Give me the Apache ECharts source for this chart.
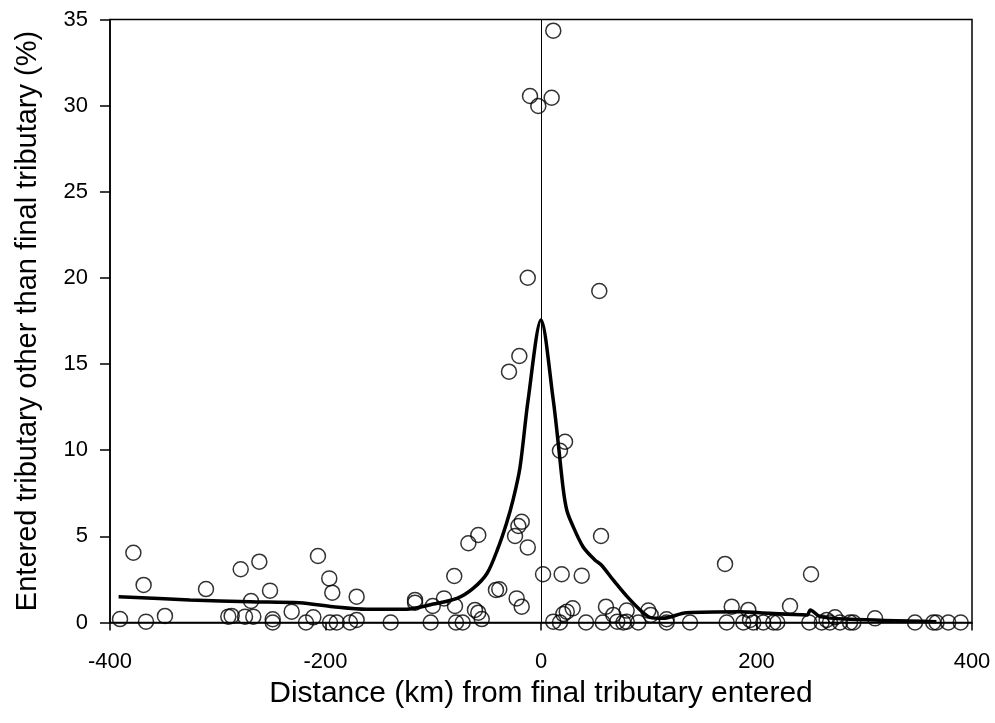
<!DOCTYPE html>
<html>
<head>
<meta charset="utf-8">
<script src="https://cdn.jsdelivr.net/npm/echarts@6/dist/echarts.min.js"></script>
<style>
html,body{margin:0;padding:0;background:#fff;}
#main{width:995px;height:723px;}
</style>
</head>
<body>
<div id="main"></div>
<script>
// Scatter observations: distance (km) and percent
var pointsX = [-390.7,-378.3,-368.8,-366.6,-349,-310.9,-290.2,-287.1,-278.7,-274.7,-269.1,-267,-261.4,-251.5,-249,-249,-231.4,-218.1,-211.3,-207,-196.5,-193.7,-195.8,-189.6,-177.3,-171.1,-171.1,-139.5,-116.9,-116.9,-102.4,-100.5,-90,-80.5,-79.8,-78.9,-72.7,-67.4,-61.3,-58.2,-58.2,-55,-41.8,-38.7,-29.7,-24.1,-22.6,-21,-20.1,-17.9,-17.9,-12.3,-12.3,-10.2,-2.5,
  1.9,9.9,11.4,11.4,17.6,17.6,19.2,20.7,22.3,23.9,29.4,37.8,41.8,54.1,55.7,57.3,60.3,67.1,70.8,76.4,79.5,79.5,90.3,99.6,101.8,116.6,116.6,138.3,170.8,172.3,177,187.8,192.4,194,197,206.3,215.6,219.3,231.1,249,250.6,260.5,265.1,268.2,272.9,277.5,286.8,289.9,310,347.1,364,367.1,378,389.5];
var pointsY = [0.20,4.05,2.18,0.05,0.38,1.94,0.34,0.38,3.09,0.34,1.25,0.34,3.53,1.85,0.19,0.0,0.63,0.0,0.30,3.86,2.56,1.73,0.0,0.0,0.0,0.15,1.50,0.0,1.31,1.15,0.0,0.96,1.40,2.70,0.96,0.0,0.0,4.6,0.73,5.08,0.57,0.2,1.89,1.93,14.56,5.02,1.40,5.6,15.47,5.85,0.92,20.01,4.36,30.56,29.98,
  2.8,30.46,34.35,0.05,0.0,9.97,2.8,0.49,10.49,0.63,0.82,2.72,0.0,19.24,5.02,0.0,0.92,0.44,0.05,0.0,0.69,0.05,0.0,0.69,0.44,0.19,0.0,0.0,3.40,0.0,0.92,0.0,0.73,0.15,0.0,0.0,0.0,0.0,0.96,0.0,2.80,0.0,0.15,0.0,0.30,0.0,0.0,0.0,0.24,0.0,0.0,0.0,0.0,0.0];

// Smoothed curve
var curveX = [-392,-326,-270,-224,-193,-162,-125,-100,-78,-63,-50,-40,-32,-26,-19.5,-12,0,11.4,16,20.7,24,28.5,39,50,56,67,80,92,101,113,135,185,203,247,250,259,287,367];
var curveY = [1.50,1.31,1.21,1.15,0.92,0.77,0.77,1.07,1.40,1.98,2.86,4.3,5.76,7.1,9.0,12.9,17.56,12.9,10.4,7.7,6.5,5.76,4.4,3.63,3.34,2.47,1.50,0.73,0.30,0.24,0.57,0.63,0.57,0.44,0.73,0.34,0.19,0.05];

var xTicks = [-400,-200,0,200,400];
var yTicks = [0,5,10,15,20,25,30,35];
var xTitle = 'Distance (km) from final tributary entered';
var yTitle = 'Entered tributary other than final tributary (%)';

var scatterData = pointsX.map(function(x,i){return [x,pointsY[i]];});
var curveData = curveX.map(function(x,i){return [x,curveY[i]];});

var font = 'Liberation Sans, Arial, sans-serif';
var chart = echarts.init(document.getElementById('main'), null, {renderer:'canvas'});
chart.setOption({
  animation:false,
  backgroundColor:'#fff',
  grid:{left:110,right:23,top:19.5,bottom:100.5,show:true,borderColor:'#000',borderWidth:1.5,backgroundColor:'transparent'},
  xAxis:{
    type:'value',min:xTicks[0],max:xTicks[xTicks.length-1],interval:200,
    axisLine:{show:true,onZero:false,lineStyle:{color:'#000',width:1.5}},
    axisTick:{show:true,inside:false,length:8,lineStyle:{color:'#000',width:1.5}},
    axisLabel:{color:'#000',fontSize:22,fontFamily:font,margin:28},
    splitLine:{show:false},
    name:xTitle,nameLocation:'middle',nameGap:56,
    nameTextStyle:{color:'#000',fontSize:30,fontFamily:font}
  },
  yAxis:{
    type:'value',min:yTicks[0],max:yTicks[yTicks.length-1],interval:5,
    axisLine:{show:true,onZero:false,lineStyle:{color:'#000',width:1.5}},
    axisTick:{show:true,inside:false,length:10,lineStyle:{color:'#000',width:1.5}},
    axisLabel:{color:'#000',fontSize:22,fontFamily:font,margin:22},
    splitLine:{show:false},
    name:yTitle,nameLocation:'middle',nameGap:68,nameRotate:90,
    nameTextStyle:{color:'#000',fontSize:29,fontFamily:font}
  },
  series:[
    {
      type:'scatter',data:scatterData,symbol:'circle',symbolSize:15,
      itemStyle:{color:'rgba(0,0,0,0)',borderColor:'#000',borderWidth:1.5},
      markLine:{silent:true,symbol:'none',label:{show:false},
        lineStyle:{color:'#000',width:1,type:'solid'},
        data:[{xAxis:0}]},
      z:3
    },
    {
      type:'line',data:curveData,showSymbol:false,smooth:0.3,
      lineStyle:{color:'#000',width:3.5},z:4
    }
  ]
});
</script>
</body>
</html>
